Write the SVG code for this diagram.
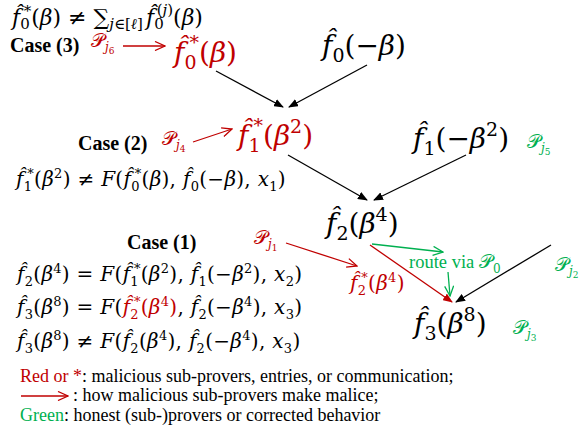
<svg xmlns="http://www.w3.org/2000/svg" width="581" height="431" viewBox="0 0 581 431">
<style>
.m{font-family:"DejaVu Serif","Liberation Serif",serif;}
.i{font-style:italic;}
.t{font-family:"Liberation Serif","Times New Roman",serif;}
.b{font-weight:bold;font-size:20px;}
.red{fill:#c00000;}
.grn{fill:#00b050;}
.big{font-size:28px;}
.f{font-size:20px;letter-spacing:0.3px;}
.p{font-size:19px;}
.ln{fill:none;stroke-width:1.3;}
</style>
<defs>
<marker id="hb" markerWidth="10" markerHeight="8" refX="9" refY="4" orient="auto" markerUnits="userSpaceOnUse"><path d="M0,0 L10,4 L0,8 Z" fill="#000"/></marker>
<marker id="hr" markerWidth="10" markerHeight="8" refX="9" refY="4" orient="auto" markerUnits="userSpaceOnUse"><path d="M0,0 L10,4 L0,8 Z" fill="#c00000"/></marker>
<marker id="or" markerWidth="12" markerHeight="10" refX="11" refY="5" orient="auto" markerUnits="userSpaceOnUse"><path d="M1,0.5 L11,5 L1,9.5" fill="none" stroke="#c00000" stroke-width="1.3"/></marker>
<marker id="og" markerWidth="12" markerHeight="10" refX="11" refY="5" orient="auto" markerUnits="userSpaceOnUse"><path d="M1,0.5 L11,5 L1,9.5" fill="none" stroke="#00b050" stroke-width="1.3"/></marker>
</defs>

<g id="connectors">
<line class="ln" stroke="#000" x1="216" y1="71" x2="283" y2="107" marker-end="url(#hb)"/>
<line class="ln" stroke="#000" x1="367" y1="65" x2="289" y2="107" marker-end="url(#hb)"/>
<line class="ln" stroke="#000" x1="288" y1="155" x2="367" y2="200" marker-end="url(#hb)"/>
<line class="ln" stroke="#000" x1="466" y1="155" x2="374" y2="200" marker-end="url(#hb)"/>
<line class="ln" stroke="#000" x1="551" y1="245" x2="456" y2="302" marker-end="url(#hb)"/>
<line class="ln" stroke="#c00000" x1="370" y1="245" x2="452" y2="302" marker-end="url(#hr)"/>
<line class="ln" stroke="#c00000" x1="123" y1="46" x2="165" y2="46" marker-end="url(#or)"/>
<line class="ln" stroke="#c00000" x1="193" y1="142" x2="232" y2="129" marker-end="url(#or)"/>
<line class="ln" stroke="#c00000" x1="286" y1="243" x2="357" y2="266" marker-end="url(#or)"/>
<line class="ln" stroke="#00b050" x1="372" y1="244" x2="443" y2="252" marker-end="url(#og)"/>
<line class="ln" stroke="#00b050" x1="448" y1="272" x2="450" y2="296" marker-end="url(#og)"/>
</g>

<g id="top-formula">
<text class="m" x="12" y="25" font-size="22"><tspan class="i">f̂</tspan><tspan font-size="15" dy="4">0</tspan><tspan font-size="15" dx="-6" dy="-13">*</tspan><tspan dy="9">(</tspan><tspan class="i">β</tspan>) ≠ ∑<tspan class="i" font-size="15" dy="4">j</tspan><tspan font-size="15">∈[</tspan><tspan font-size="15" class="i">ℓ</tspan><tspan font-size="15">]</tspan><tspan class="i" dx="3" dy="-4">f̂</tspan><tspan font-size="15" dy="4">0</tspan><tspan font-size="15" dx="-7" dy="-14">(</tspan><tspan font-size="15" class="i">j</tspan><tspan font-size="15">)</tspan><tspan dy="10">(</tspan><tspan class="i">β</tspan>)</text>
</g>

<g id="case3">
<text class="t b" x="10" y="52">Case (3)</text>
<text class="m red p" x="91" y="47">𝒫<tspan class="i" font-size="12" dy="4">j</tspan><tspan font-size="9" dy="3">6</tspan></text>
</g>

<g id="n-f0star">
<text class="m big red" x="174" y="62"><tspan class="i">f̂</tspan><tspan font-size="19" dy="7">0</tspan><tspan font-size="19" dx="-7" dy="-20">*</tspan><tspan dy="13">(</tspan><tspan class="i">β</tspan>)</text>
</g>

<g id="n-f0neg">
<text class="m big" x="322" y="55"><tspan class="i">f̂</tspan><tspan font-size="19" dy="7">0</tspan><tspan dy="-7">(−</tspan><tspan class="i">β</tspan>)</text>
</g>

<g id="case2">
<text class="t b" x="78" y="150">Case (2)</text>
<text class="m red p" x="162" y="145">𝒫<tspan class="i" font-size="12" dy="4">j</tspan><tspan font-size="9" dy="3">4</tspan></text>
<text class="m f" x="16" y="186"><tspan class="i">f̂</tspan><tspan font-size="13" dy="5">1</tspan><tspan font-size="13" dx="-5" dy="-13">*</tspan><tspan dy="8">(</tspan><tspan class="i">β</tspan><tspan font-size="13" dy="-8">2</tspan><tspan dy="8">) ≠ </tspan><tspan class="i">F</tspan>(<tspan class="i">f̂</tspan><tspan font-size="13" dy="5">0</tspan><tspan font-size="13" dx="-5" dy="-13">*</tspan><tspan dy="8">(</tspan><tspan class="i">β</tspan>), <tspan class="i">f̂</tspan><tspan font-size="13" dy="5">0</tspan><tspan dy="-5">(−</tspan><tspan class="i">β</tspan>), <tspan class="i">x</tspan><tspan font-size="13" dy="5">1</tspan><tspan dy="-5">)</tspan></text>
</g>

<g id="n-f1star">
<text class="m big red" x="238" y="145"><tspan class="i">f̂</tspan><tspan font-size="19" dy="7">1</tspan><tspan font-size="19" dx="-7" dy="-20">*</tspan><tspan dy="13">(</tspan><tspan class="i">β</tspan><tspan font-size="19" dy="-12">2</tspan><tspan dy="12">)</tspan></text>
</g>

<g id="n-f1neg">
<text class="m big" x="413" y="148"><tspan class="i">f̂</tspan><tspan font-size="19" dy="7">1</tspan><tspan dy="-7">(−</tspan><tspan class="i">β</tspan><tspan font-size="19" dy="-12">2</tspan><tspan dy="12">)</tspan></text>
<text class="m grn p" x="527" y="148">𝒫<tspan class="i" font-size="12" dy="4">j</tspan><tspan font-size="9" dy="3">5</tspan></text>
</g>

<g id="n-f2">
<text class="m big" x="326" y="233"><tspan class="i">f̂</tspan><tspan font-size="19" dy="7">2</tspan><tspan dy="-7">(</tspan><tspan class="i">β</tspan><tspan font-size="19" dy="-12">4</tspan><tspan dy="12">)</tspan></text>
</g>

<g id="case1">
<text class="t b" x="127" y="249">Case (1)</text>
<text class="m red p" x="254" y="244">𝒫<tspan class="i" font-size="12" dy="4">j</tspan><tspan font-size="9" dy="3">1</tspan></text>
<text class="m f" x="17" y="281"><tspan class="i">f̂</tspan><tspan font-size="13" dy="5">2</tspan><tspan dy="-5">(</tspan><tspan class="i">β</tspan><tspan font-size="13" dy="-8">4</tspan><tspan dy="8">) = </tspan><tspan class="i">F</tspan>(<tspan class="i">f̂</tspan><tspan font-size="13" dy="5">1</tspan><tspan font-size="13" dx="-5" dy="-13">*</tspan><tspan dy="8">(</tspan><tspan class="i">β</tspan><tspan font-size="13" dy="-8">2</tspan><tspan dy="8">), </tspan><tspan class="i">f̂</tspan><tspan font-size="13" dy="5">1</tspan><tspan dy="-5">(−</tspan><tspan class="i">β</tspan><tspan font-size="13" dy="-8">2</tspan><tspan dy="8">), </tspan><tspan class="i">x</tspan><tspan font-size="13" dy="5">2</tspan><tspan dy="-5">)</tspan></text>
<text class="m f" x="17" y="314"><tspan class="i">f̂</tspan><tspan font-size="13" dy="5">3</tspan><tspan dy="-5">(</tspan><tspan class="i">β</tspan><tspan font-size="13" dy="-8">8</tspan><tspan dy="8">) = </tspan><tspan class="i">F</tspan>(<tspan class="i red">f̂</tspan><tspan class="red" font-size="13" dy="5">2</tspan><tspan class="red" font-size="13" dx="-5" dy="-13">*</tspan><tspan class="red" dy="8">(</tspan><tspan class="i red">β</tspan><tspan class="red" font-size="13" dy="-8">4</tspan><tspan class="red" dy="8">)</tspan>, <tspan class="i">f̂</tspan><tspan font-size="13" dy="5">2</tspan><tspan dy="-5">(−</tspan><tspan class="i">β</tspan><tspan font-size="13" dy="-8">4</tspan><tspan dy="8">), </tspan><tspan class="i">x</tspan><tspan font-size="13" dy="5">3</tspan><tspan dy="-5">)</tspan></text>
<text class="m f" x="17" y="348"><tspan class="i">f̂</tspan><tspan font-size="13" dy="5">3</tspan><tspan dy="-5">(</tspan><tspan class="i">β</tspan><tspan font-size="13" dy="-8">8</tspan><tspan dy="8">) ≠ </tspan><tspan class="i">F</tspan>(<tspan class="i">f̂</tspan><tspan font-size="13" dy="5">2</tspan><tspan dy="-5">(</tspan><tspan class="i">β</tspan><tspan font-size="13" dy="-8">4</tspan><tspan dy="8">), </tspan><tspan class="i">f̂</tspan><tspan font-size="13" dy="5">2</tspan><tspan dy="-5">(−</tspan><tspan class="i">β</tspan><tspan font-size="13" dy="-8">4</tspan><tspan dy="8">), </tspan><tspan class="i">x</tspan><tspan font-size="13" dy="5">3</tspan><tspan dy="-5">)</tspan></text>
</g>

<g id="n-f2star">
<text class="m red f" x="350" y="290"><tspan class="i">f̂</tspan><tspan font-size="13" dy="5">2</tspan><tspan font-size="13" dx="-5" dy="-13">*</tspan><tspan dy="8">(</tspan><tspan class="i">β</tspan><tspan font-size="13" dy="-8">4</tspan><tspan dy="8">)</tspan></text>
</g>

<g id="route">
<text class="t grn" x="409" y="268" font-size="18.5">route via <tspan class="m p">𝒫</tspan><tspan class="m" font-size="12" dy="5">0</tspan></text>
</g>

<g id="n-f3">
<text class="m big" x="414" y="333"><tspan class="i">f̂</tspan><tspan font-size="19" dy="7">3</tspan><tspan dy="-7">(</tspan><tspan class="i">β</tspan><tspan font-size="19" dy="-12">8</tspan><tspan dy="12">)</tspan></text>
<text class="m grn p" x="555" y="271">𝒫<tspan class="i" font-size="12" dy="4">j</tspan><tspan font-size="9" dy="3">2</tspan></text>
<text class="m grn p" x="513" y="334">𝒫<tspan class="i" font-size="12" dy="4">j</tspan><tspan font-size="9" dy="3">3</tspan></text>
</g>

<g id="legend">
<text class="t" x="20" y="382" font-size="18"><tspan class="red">Red or *</tspan>: malicious sub-provers, entries, or communication;</text>
<line class="ln" stroke="#c00000" x1="21" y1="396" x2="68" y2="396" marker-end="url(#or)"/>
<text class="t" x="73" y="401" font-size="18">: how malicious sub-provers make malice;</text>
<text class="t" x="20" y="421" font-size="18"><tspan class="grn">Green</tspan>: honest (sub-)provers or corrected behavior</text>
</g>
</svg>
